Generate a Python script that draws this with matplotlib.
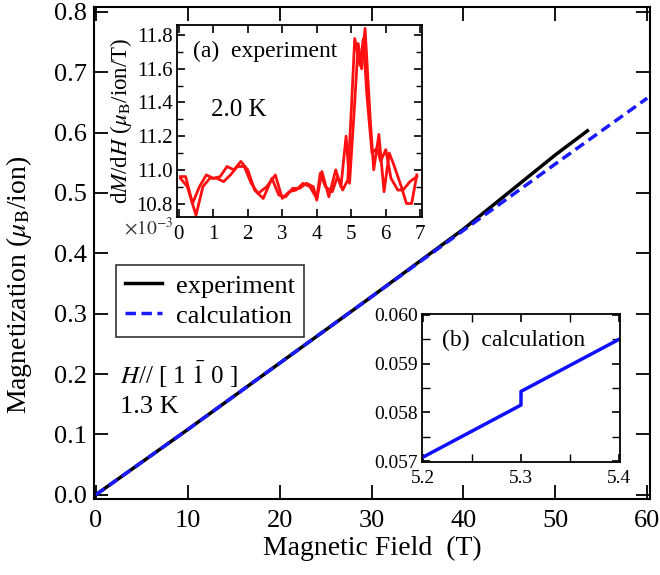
import numpy as np
import matplotlib
matplotlib.use('Agg')
import matplotlib.pyplot as plt
from matplotlib.ticker import MultipleLocator

plt.rcParams['font.family'] = ['Liberation Serif', 'DejaVu Serif']
plt.rcParams['mathtext.fontset'] = 'stix'

# main panel: M(H)
field_exp = [0, 10, 20, 30, 40, 50, 53.5]
mag_exp   = [0, 0.108, 0.218, 0.328, 0.440, 0.563, 0.603]
field_calc = [0, 10, 20, 30, 40, 50, 60]
mag_calc   = [0, 0.108, 0.218, 0.328, 0.438, 0.548, 0.657]

# inset (a): dM/dH, two sweeps (x1e-3)
h_a1 = [0.05, 0.2, 0.4, 0.6, 0.8, 1.0, 1.2, 1.4, 1.6, 1.8, 2.0, 2.2, 2.45, 2.7, 2.9,
        3.1, 3.3, 3.5, 3.7, 3.9, 4.0, 4.15, 4.35, 4.55, 4.7, 4.85, 4.95, 5.1, 5.2,
        5.3, 5.4, 5.55, 5.65, 5.8, 5.95, 6.1, 6.25, 6.45, 6.6, 6.75, 6.9]
dmdh_a1 = [10.96, 10.96, 10.80, 10.90, 10.97, 10.95, 10.96, 11.02, 11.00, 11.05, 11.00,
           10.88, 10.83, 10.95, 10.85, 10.84, 10.89, 10.89, 10.92, 10.90, 10.82, 10.99,
           10.84, 11.00, 10.90, 11.20, 10.92, 11.40, 11.75, 11.60, 11.84, 11.30, 11.00,
           11.21, 10.87, 11.10, 11.02, 10.90, 10.80, 10.80, 10.97]
h_a2 = [0.05, 0.25, 0.5, 0.7, 0.9, 1.1, 1.3, 1.5, 1.7, 1.9, 2.1, 2.3, 2.55, 2.8, 3.0,
        3.2, 3.4, 3.6, 3.8, 4.0, 4.1, 4.25, 4.45, 4.6, 4.75, 4.9, 5.0, 5.1, 5.25,
        5.35, 5.45, 5.6, 5.75, 5.85, 6.0, 6.15, 6.35, 6.5, 6.7, 6.9]
dmdh_a2 = [10.95, 10.90, 10.73, 10.90, 10.95, 10.95, 10.93, 10.97, 11.02, 11.02, 10.92,
           10.86, 10.90, 10.97, 10.83, 10.87, 10.88, 10.92, 10.90, 10.83, 10.98, 10.90,
           10.87, 10.96, 10.88, 10.94, 11.35, 11.78, 11.62, 11.78, 11.45, 11.10, 11.13,
           11.05, 11.12, 10.95, 10.88, 10.88, 10.93, 10.96]

# inset (b): calculated step
h_b = [5.2, 5.3, 5.3, 5.4]
m_b = [0.05708, 0.05815, 0.05843, 0.0595]

fig = plt.figure(figsize=(6.6, 5.75), dpi=100)

ax = fig.add_axes((0.1424, 0.1322, 0.8424, 0.8556))
ax.plot(field_exp, mag_exp, color='black', lw=2.5, label='experiment')
ax.plot(field_calc, mag_calc, color='#1a1aff', lw=2.5, ls=(0, (3, 1.6)), label='calculation')
ax.set_xlim(-0.2, 60.3)
ax.set_ylim(-0.007, 0.808)
ax.xaxis.set_major_locator(MultipleLocator(10))
ax.yaxis.set_major_locator(MultipleLocator(0.1))
ax.yaxis.set_major_formatter(plt.FormatStrFormatter('%.1f'))
ax.tick_params(direction='in', top=True, right=True, length=10, width=1.3,
               labelsize=19, pad=5)
ax.tick_params(axis='x', pad=8)
for s in ax.spines.values():
    s.set_linewidth(1.5)
ax.set_xlabel('Magnetic Field  (T)', fontsize=20, labelpad=3)
ax.set_ylabel(r'Magnetization ($\mu_\mathrm{B}$/ion)', fontsize=20)
ax.yaxis.set_label_coords(-0.108, 0.435)
leg = ax.legend(loc='upper left', bbox_to_anchor=(0.04, 0.476), fontsize=19,
                frameon=True, fancybox=False, edgecolor='black', handlelength=1.4,
                borderpad=0.35, labelspacing=0.25, handletextpad=0.5, borderaxespad=0)
leg.get_frame().set_linewidth(1.2)
ax.text(2.6, 0.199, r'$H$// [ 1 $\bar{\mathrm{1}}$ 0 ]', fontsize=18, va='center', ha='left')
ax.text(2.6, 0.146, '1.3 K', fontsize=19, va='center', ha='left')

# inset (a)
axa = fig.add_axes((0.2682, 0.6226, 0.3712, 0.3339))
axa.plot(h_a1, dmdh_a1, color='#ff1010', lw=2)
axa.plot(h_a2, dmdh_a2, color='#ff1010', lw=2)
axa.set_xlim(-0.05, 7.05)
axa.set_ylim(10.72, 11.86)
axa.xaxis.set_major_locator(MultipleLocator(1))
axa.yaxis.set_major_locator(MultipleLocator(0.2))
axa.yaxis.set_minor_locator(MultipleLocator(0.1))
axa.yaxis.set_major_formatter(plt.FormatStrFormatter('%.1f'))
axa.tick_params(which='both', direction='in', top=True, right=True, labelsize=15, pad=3)
axa.tick_params(axis='x', pad=6)
axa.tick_params(which='major', length=6, width=1.2)
axa.tick_params(which='minor', length=4, width=1.0)
for s in axa.spines.values():
    s.set_linewidth(1.3)
axa.set_ylabel(r'd$M$/d$H$ ($\mu_\mathrm{B}$/ion/T)', fontsize=16.5, labelpad=2)
axa.text(-0.015, 0.0, r'$\times10^{-3}$', transform=axa.transAxes, ha='right', va='top',
         fontsize=14, color='#333333')
axa.text(0.065, 0.86, '(a)  experiment', transform=axa.transAxes, fontsize=17, va='center')
axa.text(0.14, 0.557, '2.0 K', transform=axa.transAxes, fontsize=18, va='center')

# inset (b)
axb = fig.add_axes((0.6394, 0.1965, 0.3, 0.2574))
axb.plot(h_b, m_b, color='#1010ff', lw=2.5)
axb.set_xlim(5.199, 5.401)
axb.set_ylim(0.05698, 0.06002)
axb.xaxis.set_major_locator(MultipleLocator(0.1))
axb.xaxis.set_minor_locator(MultipleLocator(0.05))
axb.yaxis.set_major_locator(MultipleLocator(0.001))
axb.yaxis.set_minor_locator(MultipleLocator(0.0005))
axb.yaxis.set_major_formatter(plt.FormatStrFormatter('%.3f'))
axb.xaxis.set_major_formatter(plt.FormatStrFormatter('%.1f'))
axb.tick_params(which='both', direction='in', top=True, right=True, labelsize=14, pad=3)
axb.tick_params(axis='x', pad=6)
axb.tick_params(which='major', length=6, width=1.2)
axb.tick_params(which='minor', length=6, width=1.0)
for s in axb.spines.values():
    s.set_linewidth(1.3)
axb.text(0.10, 0.82, '(b)  calculation', transform=axb.transAxes, fontsize=17, va='center')

fig.savefig('out.png', dpi=100)
